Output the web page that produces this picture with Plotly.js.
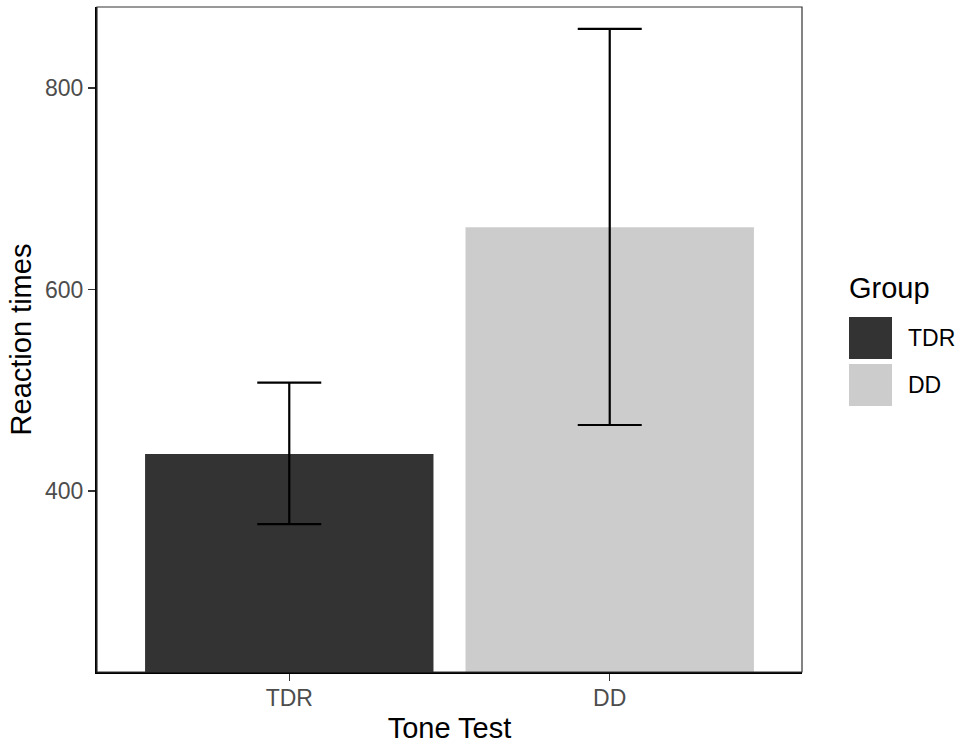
<!DOCTYPE html>
<html>
<head>
<meta charset="utf-8">
<script src="https://cdn.plot.ly/plotly-3.0.1.min.js"></script>
<style>
  html, body { margin: 0; padding: 0; background: #fff; }
  #chart { width: 967px; height: 744px; }
</style>
</head>
<body>
<div id="chart"></div>
<script>
  // mean reaction time per group, with the ends of the error bars
  var groups = ["TDR", "DD"];
  var meanRT = [436.7, 661.7];
  var upperRT = [507.5, 858.6];
  var lowerRT = [367.0, 465.5];
  var groupColors = ["#333333", "#CCCCCC"];
  var yTicks = [400, 600, 800];

  var W = 967, H = 744;
  var plotL = 97, plotR = 802, plotT = 7, plotB = 672;
  var font = "'Liberation Sans', Arial, sans-serif";

  // pixel -> paper helpers, used only for the hand-built legend
  function px(x) { return (x - plotL) / (plotR - plotL); }
  function py(y) { return (plotB - y) / (plotB - plotT); }

  var traces = groups.map(function (g, i) {
    return {
      type: "bar",
      x: [g],
      y: [meanRT[i]],
      width: 0.9,
      marker: { color: groupColors[i], line: { width: 0 } },
      error_y: {
        type: "data",
        symmetric: false,
        array: [upperRT[i] - meanRT[i]],
        arrayminus: [meanRT[i] - lowerRT[i]],
        color: "#000",
        thickness: 2.2,
        width: 32
      },
      showlegend: false,
      hoverinfo: "skip"
    };
  });

  var shapes = [
    // panel border
    { type: "rect", xref: "paper", yref: "paper", x0: 0, x1: 1, y0: 0, y1: 1,
      line: { color: "#333333", width: 1.2 }, layer: "above" }
  ];
  var annotations = [
    { xref: "paper", yref: "paper", x: px(847), y: py(288), xanchor: "left", yanchor: "middle",
      text: "Group", showarrow: false, font: { family: font, size: 29, color: "#000" } }
  ];
  var keyTops = [317, 364];
  groups.forEach(function (g, i) {
    var top = keyTops[i];
    shapes.push({ type: "rect", xref: "paper", yref: "paper",
      x0: px(849), x1: px(892), y0: py(top + 42), y1: py(top),
      fillcolor: groupColors[i], line: { width: 0 } });
    annotations.push({ xref: "paper", yref: "paper", x: px(906), y: py(top + 21),
      xanchor: "left", yanchor: "middle", text: g, showarrow: false,
      font: { family: font, size: 23, color: "#000" } });
  });

  var layout = {
    width: W, height: H,
    margin: { l: plotL, r: W - plotR, t: plotT, b: H - plotB, pad: 0 },
    paper_bgcolor: "#fff", plot_bgcolor: "#fff",
    font: { family: font },
    barmode: "overlay",
    showlegend: false,
    xaxis: {
      type: "category",
      categoryorder: "array", categoryarray: groups,
      range: [-0.6, 1.6],
      showgrid: false, zeroline: false,
      showline: true, linecolor: "#000", linewidth: 2,
      ticks: "outside", ticklen: 7, tickwidth: 1.5, tickcolor: "#333333",
      tickfont: { family: font, size: 23, color: "#4D4D4D" },
      ticklabelstandoff: -3,
      title: { text: "Tone Test", font: { family: font, size: 29, color: "#000" }, standoff: 10 },
      fixedrange: true
    },
    yaxis: {
      range: [220.3, 880.4],
      tickvals: yTicks,
      showgrid: false, zeroline: false,
      showline: true, linecolor: "#000", linewidth: 2,
      ticks: "outside", ticklen: 7, tickwidth: 1.5, tickcolor: "#333333",
      tickfont: { family: font, size: 23, color: "#4D4D4D" },
      title: { text: "Reaction times", font: { family: font, size: 29, color: "#000" }, standoff: 5 },
      fixedrange: true
    },
    shapes: shapes,
    annotations: annotations
  };

  Plotly.newPlot("chart", traces, layout, { displayModeBar: false, staticPlot: true });
</script>
</body>
</html>
